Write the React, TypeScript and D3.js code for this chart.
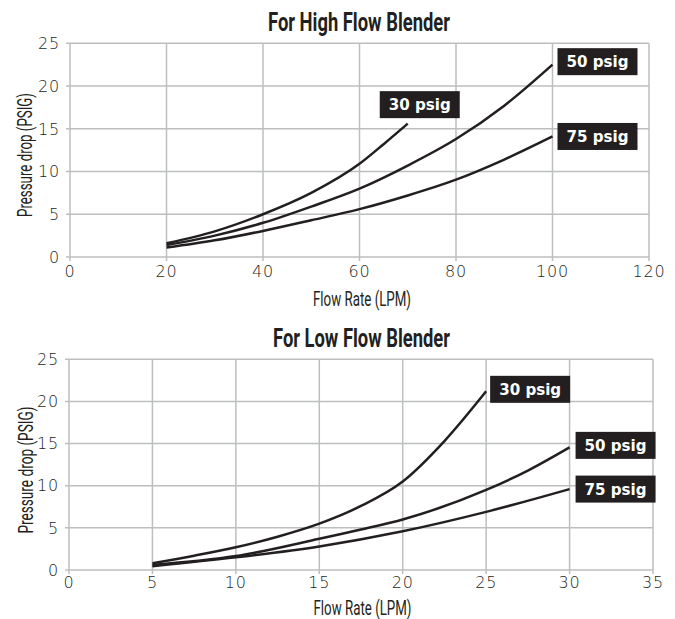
import React from "react";
import * as d3 from "d3";

// ---------- data ----------
const HIGH_TITLE = "For High Flow Blender";
const LOW_TITLE = "For Low Flow Blender";
const X_LABEL = "Flow Rate (LPM)";
const Y_LABEL = "Pressure drop (PSIG)";
const SERIES_NAMES = ["30 psig", "50 psig", "75 psig"];

const HIGH_X_TICKS = [0, 20, 40, 60, 80, 100, 120];
const LOW_X_TICKS = [0, 5, 10, 15, 20, 25, 30, 35];
const Y_TICKS = [0, 5, 10, 15, 20, 25];

const HIGH_30_FLOW = [20, 30, 40, 50, 60, 65, 70];
const HIGH_30_DROP = [1.6, 3.0, 5.0, 7.5, 10.9, 13.2, 15.6];
const HIGH_50_FLOW = [20, 30, 40, 50, 60, 70, 80, 90, 100];
const HIGH_50_DROP = [1.4, 2.5, 4.0, 5.9, 8.0, 10.7, 13.8, 17.7, 22.5];
const HIGH_75_FLOW = [20, 30, 40, 50, 60, 70, 80, 90, 100];
const HIGH_75_DROP = [1.1, 1.95, 3.05, 4.3, 5.6, 7.2, 9.05, 11.4, 14.1];

const LOW_30_FLOW = [5, 7.5, 10, 12.5, 15, 17.5, 20, 22.5, 25];
const LOW_30_DROP = [0.8, 1.7, 2.7, 3.95, 5.5, 7.6, 10.5, 15.3, 21.2];
const LOW_50_FLOW = [5, 10, 15, 17.5, 20, 25, 27.5, 30];
const LOW_50_DROP = [0.6, 1.65, 3.7, 4.8, 6.0, 9.5, 11.8, 14.55];
const LOW_75_FLOW = [5, 10, 15, 20, 25, 30];
const LOW_75_DROP = [0.45, 1.5, 2.8, 4.6, 6.9, 9.6];

// ---------- styles ----------
const INK = "#231f20";
const GRID = "#bcbec0";
const NARROW = "'Liberation Sans Narrow', 'Roboto', 'Liberation Sans', sans-serif";
const TICK_FONT = "'DejaVu Sans', 'Open Sans', sans-serif";
const BADGE_FONT = "'DejaVu Sans', 'Open Sans', sans-serif";

type Series = { name: string; flow: number[]; drop: number[]; dx: number; dy: number };

type ChartProps = {
  title: string;
  titleX: number;
  titleY: number;
  titleLen: number;
  left: number;
  right: number;
  top: number;
  bottom: number;
  xMax: number;
  xTicks: number[];
  series: Series[];
  xLabelX: number;
  xLabelY: number;
  yLabelX: number;
  yLabelY: number;
  yLabelLen: number;
  xTickY: number;
};

function Chart(p: ChartProps) {
  const x = d3.scaleLinear().domain([0, p.xMax]).range([p.left, p.right]);
  const y = d3.scaleLinear().domain([0, 25]).range([p.bottom, p.top]);
  const line = d3
    .line<[number, number]>()
    .x((d) => x(d[0]))
    .y((d) => y(d[1]))
    .curve(d3.curveMonotoneX);

  return (
    <g>
      <text
        x={p.titleX}
        y={p.titleY}
        textAnchor="middle"
        fontFamily={NARROW}
        fontWeight="bold"
        fontSize={25}
        fill={INK}
        textLength={p.titleLen}
        lengthAdjust="spacingAndGlyphs"
      >
        {p.title}
      </text>
      {/* vertical grid */}
      {p.xTicks.map((t) => (
        <line
          key={"vx" + t}
          x1={x(t)}
          x2={x(t)}
          y1={y(25)}
          y2={y(0) + 4}
          stroke={GRID}
          strokeWidth={1.5}
        />
      ))}
      {/* horizontal grid */}
      {Y_TICKS.map((t) => (
        <line
          key={"hy" + t}
          x1={x(0) - 4}
          x2={x(p.xMax)}
          y1={y(t)}
          y2={y(t)}
          stroke={GRID}
          strokeWidth={1.5}
        />
      ))}
      {/* tick labels */}
      {p.xTicks.map((t) => (
        <text
          key={"xt" + t}
          x={x(t)}
          y={p.xTickY}
          textAnchor="middle"
          fontFamily={TICK_FONT}
          fontWeight={200}
          fontSize={16}
          letterSpacing={0.8}
          fill={INK}
        >
          {t}
        </text>
      ))}
      {Y_TICKS.map((t) => (
        <text
          key={"yt" + t}
          x={x(0) - 10}
          y={y(t)}
          dy="0.36em"
          textAnchor="end"
          fontFamily={TICK_FONT}
          fontWeight={200}
          fontSize={16}
          letterSpacing={0.8}
          fill={INK}
        >
          {t}
        </text>
      ))}
      {/* curves */}
      {p.series.map((s) => (
        <path
          key={"c" + s.name}
          d={line(s.flow.map((f, i) => [f, s.drop[i]] as [number, number])) || ""}
          fill="none"
          stroke={INK}
          strokeWidth={2.5}
        />
      ))}
      {/* badges */}
      {p.series.map((s) => {
        const n = s.flow.length;
        const ex = x(s.flow[n - 1]);
        const ey = y(s.drop[n - 1]);
        const bx = ex + s.dx;
        const cy = ey + s.dy;
        return (
          <g key={"b" + s.name}>
            <rect x={bx} y={cy - 13.5} width={80} height={27} fill={INK} />
            <text
              x={bx + 40}
              y={cy}
              dy="0.36em"
              textAnchor="middle"
              fontFamily={BADGE_FONT}
              fontWeight="bold"
              fontSize={15.5}
              fill="#ffffff"
              textLength={62}
              lengthAdjust="spacingAndGlyphs"
            >
              {s.name}
            </text>
          </g>
        );
      })}
      {/* axis titles */}
      <text
        x={p.xLabelX}
        y={p.xLabelY}
        textAnchor="middle"
        fontFamily={NARROW}
        fontSize={21}
        fill={INK}
        textLength={98}
        lengthAdjust="spacingAndGlyphs"
      >
        {X_LABEL}
      </text>
      <text
        transform={`translate(${p.yLabelX},${p.yLabelY}) rotate(-90)`}
        textAnchor="middle"
        fontFamily={NARROW}
        fontSize={21}
        fill={INK}
        textLength={p.yLabelLen}
        lengthAdjust="spacingAndGlyphs"
      >
        {Y_LABEL}
      </text>
    </g>
  );
}

export default function App() {
  const highSeries: Series[] = [
    { name: SERIES_NAMES[0], flow: HIGH_30_FLOW, drop: HIGH_30_DROP, dx: -28, dy: -19 },
    { name: SERIES_NAMES[1], flow: HIGH_50_FLOW, drop: HIGH_50_DROP, dx: 5, dy: -3 },
    { name: SERIES_NAMES[2], flow: HIGH_75_FLOW, drop: HIGH_75_DROP, dx: 5, dy: 0 },
  ];
  const lowSeries: Series[] = [
    { name: SERIES_NAMES[0], flow: LOW_30_FLOW, drop: LOW_30_DROP, dx: 4, dy: -2 },
    { name: SERIES_NAMES[1], flow: LOW_50_FLOW, drop: LOW_50_DROP, dx: 6, dy: -2 },
    { name: SERIES_NAMES[2], flow: LOW_75_FLOW, drop: LOW_75_DROP, dx: 6, dy: 0 },
  ];
  return (
    <svg
      width={675}
      height={619}
      style={{ position: "absolute", left: 0, top: 0, background: "#ffffff" }}
    >
      <rect width={675} height={619} fill="#ffffff" />
      <Chart
        title={HIGH_TITLE}
        titleX={359}
        titleY={31}
        titleLen={182}
        left={70}
        right={649}
        top={43.3}
        bottom={257}
        xMax={120}
        xTicks={HIGH_X_TICKS}
        series={highSeries}
        xLabelX={362}
        xLabelY={306}
        yLabelX={32}
        yLabelY={155}
        yLabelLen={124}
        xTickY={277}
      />
      <Chart
        title={LOW_TITLE}
        titleX={361.5}
        titleY={347}
        titleLen={177}
        left={69}
        right={653}
        top={359.3}
        bottom={570}
        xMax={35}
        xTicks={LOW_X_TICKS}
        series={lowSeries}
        xLabelX={362.5}
        xLabelY={615}
        yLabelX={33}
        yLabelY={470}
        yLabelLen={127}
        xTickY={588}
      />
    </svg>
  );
}
